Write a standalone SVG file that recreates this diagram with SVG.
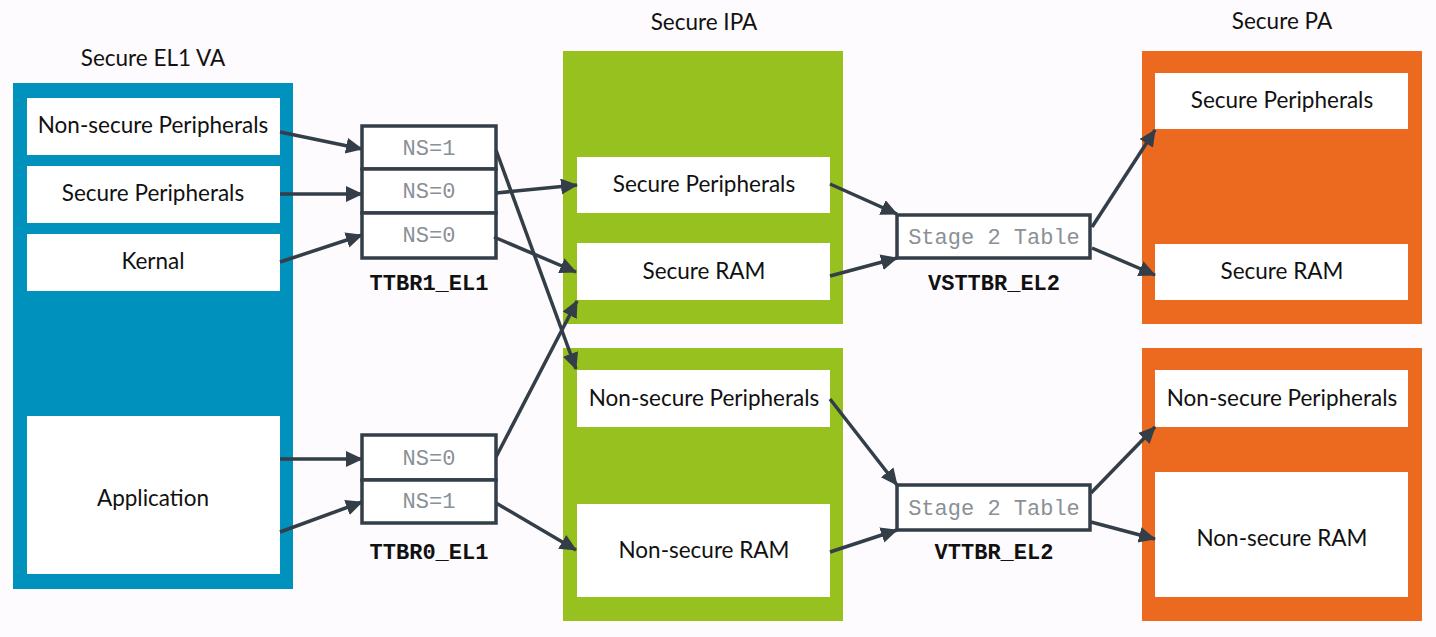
<svg xmlns="http://www.w3.org/2000/svg" width="1436" height="637" viewBox="0 0 1436 637">
<defs>
<style>
.bg{fill:#fdfbfd}
.blue{fill:#0091bd}
.green{fill:#97c11f}
.orange{fill:#ec6a1f}
.wb{fill:#ffffff}
.t{font-family:Lato,"Open Sans","Liberation Sans",sans-serif;font-size:22.5px;fill:#111111;text-anchor:middle}
.ns{font-family:"Courier New","Liberation Mono","DejaVu Sans Mono",monospace;font-size:22px;fill:#8a9096;text-anchor:middle}
.reg{font-family:"Courier New","Liberation Mono","DejaVu Sans Mono",monospace;font-size:22px;font-weight:bold;fill:#111111;text-anchor:middle}
.tbl{fill:#ffffff;stroke:#333e48;stroke-width:3.5}
.c{stroke:#333e48;stroke-width:3.5;fill:none;marker-end:url(#ah)}
</style>
<marker id="ah" markerUnits="userSpaceOnUse" markerWidth="18" markerHeight="18" refX="16" refY="8" orient="auto">
<path d="M0,0 L17,8 L0,16 z" fill="#333e48"/>
</marker>
</defs>
<rect class="bg" x="0" y="0" width="1436" height="637"/>

<g id="va">
<text class="t" x="153" y="66">Secure EL1 VA</text>
<rect class="blue" x="13" y="83" width="280" height="506"/>
<g id="va-nsp"><rect class="wb" x="27" y="98" width="253" height="57"/><text class="t" x="153" y="133">Non-secure Peripherals</text></g>
<g id="va-sp"><rect class="wb" x="27" y="166" width="253" height="57"/><text class="t" x="153" y="201">Secure Peripherals</text></g>
<g id="va-kernal"><rect class="wb" x="27" y="234" width="253" height="57"/><text class="t" x="153" y="269">Kernal</text></g>
<g id="va-app"><rect class="wb" x="27" y="416" width="253" height="158"/><text class="t" x="153" y="506">Application</text></g>
</g>

<g id="ttbr1">
<rect class="tbl" x="362" y="126" width="134" height="43"/>
<rect class="tbl" x="362" y="169" width="134" height="44"/>
<rect class="tbl" x="362" y="213" width="134" height="45"/>
<text class="ns" x="429" y="155">NS=1</text>
<text class="ns" x="429" y="198">NS=0</text>
<text class="ns" x="429" y="242">NS=0</text>
<text class="reg" x="429" y="290">TTBR1_EL1</text>
</g>

<g id="ttbr0">
<rect class="tbl" x="362" y="435" width="134" height="45"/>
<rect class="tbl" x="362" y="480" width="134" height="43"/>
<text class="ns" x="429" y="465">NS=0</text>
<text class="ns" x="429" y="508">NS=1</text>
<text class="reg" x="429" y="559">TTBR0_EL1</text>
</g>

<g id="ipa">
<text class="t" x="704" y="30">Secure IPA</text>
<rect class="green" x="563" y="51" width="280" height="273"/>
<rect class="green" x="563" y="348" width="280" height="273"/>
<g id="ipa-sp"><rect class="wb" x="577" y="157" width="253" height="56"/><text class="t" x="704" y="192">Secure Peripherals</text></g>
<g id="ipa-sram"><rect class="wb" x="577" y="243" width="253" height="57"/><text class="t" x="704" y="279">Secure RAM</text></g>
<g id="ipa-nsp"><rect class="wb" x="577" y="370" width="253" height="57"/><text class="t" x="704" y="406">Non-secure Peripherals</text></g>
<g id="ipa-nsram"><rect class="wb" x="577" y="504" width="253" height="93"/><text class="t" x="704" y="558">Non-secure RAM</text></g>
</g>

<g id="vsttbr">
<rect class="tbl" x="897" y="215" width="193" height="43"/>
<text class="ns" x="994" y="244">Stage 2 Table</text>
<text class="reg" x="994" y="290">VSTTBR_EL2</text>
</g>

<g id="vttbr">
<rect class="tbl" x="897" y="485" width="193" height="45"/>
<text class="ns" x="994" y="515">Stage 2 Table</text>
<text class="reg" x="994" y="559">VTTBR_EL2</text>
</g>

<g id="pa">
<text class="t" x="1282" y="29">Secure PA</text>
<rect class="orange" x="1142" y="51" width="280" height="273"/>
<rect class="orange" x="1142" y="348" width="280" height="273"/>
<g id="pa-sp"><rect class="wb" x="1155" y="73" width="253" height="56"/><text class="t" x="1282" y="108">Secure Peripherals</text></g>
<g id="pa-sram"><rect class="wb" x="1155" y="244" width="253" height="56"/><text class="t" x="1282" y="279">Secure RAM</text></g>
<g id="pa-nsp"><rect class="wb" x="1155" y="370" width="253" height="57"/><text class="t" x="1282" y="406">Non-secure Peripherals</text></g>
<g id="pa-nsram"><rect class="wb" x="1155" y="472" width="253" height="125"/><text class="t" x="1282" y="546">Non-secure RAM</text></g>
</g>

<g id="connectors">
<line class="c" x1="280" y1="132" x2="362" y2="149"/>
<line class="c" x1="280" y1="194" x2="362" y2="194"/>
<line class="c" x1="280" y1="262" x2="362" y2="235"/>
<line class="c" x1="280" y1="459" x2="362" y2="459"/>
<line class="c" x1="280" y1="532" x2="362" y2="502"/>
<line class="c" x1="496" y1="150" x2="576" y2="369"/>
<line class="c" x1="496" y1="193" x2="577" y2="185"/>
<line class="c" x1="494" y1="237" x2="576" y2="272"/>
<line class="c" x1="496" y1="457" x2="577" y2="301"/>
<line class="c" x1="496" y1="503" x2="576" y2="550"/>
<line class="c" x1="830" y1="184" x2="897" y2="214"/>
<line class="c" x1="830" y1="276" x2="897" y2="258"/>
<line class="c" x1="830" y1="399" x2="897" y2="485"/>
<line class="c" x1="830" y1="552" x2="897" y2="530"/>
<line class="c" x1="1092" y1="227" x2="1155" y2="130"/>
<line class="c" x1="1092" y1="248" x2="1155" y2="275"/>
<line class="c" x1="1091" y1="493" x2="1155" y2="427"/>
<line class="c" x1="1091" y1="522" x2="1155" y2="539"/>
</g>
</svg>
